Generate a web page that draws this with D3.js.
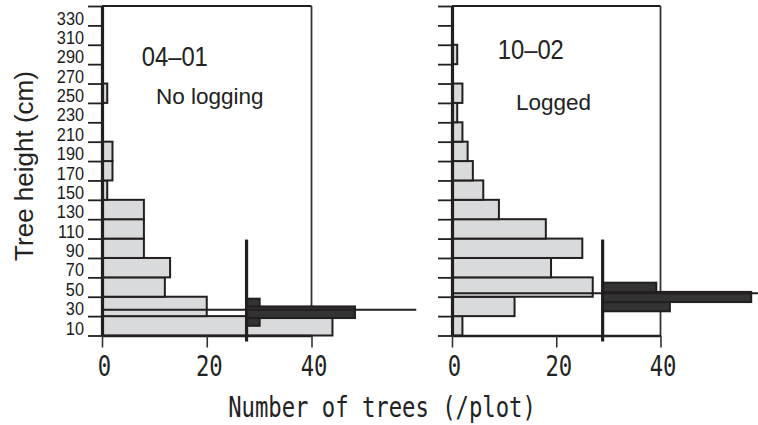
<!DOCTYPE html>
<html><head><meta charset="utf-8">
<script src="https://cdn.jsdelivr.net/npm/d3@7"></script>
<style>body{margin:0;background:#fff}svg{display:block}</style>
</head><body>
<svg id="c" width="758" height="425"></svg>
<script>
// ---- data ----
const binEdges = [0,20,40,60,80,100,120,140,160,180,200,220,240,260,280,300,320,340];
const binLabels = [10,30,50,70,90,110,130,150,170,190,210,230,250,270,290,310,330];
const xTicks = [0,20,40];
// counts per 20-cm bin, from 0-20 upward
const countsNoLogging = [44,20,12,13,8,8,8,1,2,2,0,0,1,0,0,0,0];
const countsLogged    = [2,12,27,19,25,18,9,6,4,3,2,1,2,0,1,0,0];
// dark inset histograms (edges in cm, lengths in number-of-trees units)
const insetEdgesNoLogging = [10,18,30,38];
const insetValsNoLogging  = [2.5,20.7,2.5];
const insetEdgesLogged    = [25,34.5,45,54.5];
const insetValsLogged     = [12.9,28.5,10.3];
const insetBaseNoLogging = 27.6, insetBaseLogged = 28.9;
const meanNoLogging = 26.6, meanLogged = 43.5;
const plotNames = ["04–01","10–02"];
const plotNotes = ["No logging","Logged"];

// ---- drawing ----
const svg = d3.select("#c");
const y = d3.scaleLinear().domain([0,340]).range([335.5,6]);
const dark = "#231f20", grayFill = "#d9dadb";

const panels = [
  {r:[102,311.5], counts:countsNoLogging, ie:insetEdgesNoLogging, iv:insetValsNoLogging, ib:insetBaseNoLogging, mean:meanNoLogging, name:plotNames[0], note:plotNotes[0], nameXY:[141.7,66], noteXY:[156,104], labels:true},
  {r:[452,660.5], counts:countsLogged, ie:insetEdgesLogged, iv:insetValsLogged, ib:insetBaseLogged, mean:meanLogged, name:plotNames[1], note:plotNotes[1], nameXY:[497.7,59.3], noteXY:[516,110], labels:false}
];

panels.forEach(p => {
  const x = d3.scaleLinear().domain([0,40]).range(p.r);
  const g = svg.append("g");
  // frame top and right
  g.append("line").attr("x1",x(0)).attr("x2",x(40)).attr("y1",y(340)).attr("y2",y(340))
    .attr("stroke",dark).attr("stroke-width",2);
  g.append("line").attr("x1",x(40)).attr("x2",x(40)).attr("y1",y(340)).attr("y2",y(0))
    .attr("stroke","#333").attr("stroke-width",1.8);
  // gray bars
  const bins = p.counts.map((c,i)=>({lo:binEdges[i], hi:binEdges[i+1], v:c})).filter(d=>d.v>0);
  g.selectAll("rect.bar").data(bins).join("rect").attr("class","bar")
    .attr("x",x(0)).attr("y",d=>y(d.hi)).attr("width",d=>x(d.v)-x(0)).attr("height",d=>y(d.lo)-y(d.hi))
    .attr("fill",grayFill).attr("stroke",dark).attr("stroke-width",2);
  // y axis ticks at bin edges
  const ya = g.append("g").attr("transform",`translate(${x(0)},0)`)
    .call(d3.axisLeft(y).tickValues(binEdges).tickSize(14).tickSizeOuter(0).tickFormat(""));
  ya.selectAll(".tick line").attr("stroke",dark).attr("stroke-width",1.8);
  ya.select(".domain").attr("stroke",dark).attr("stroke-width",3.2);
  if (p.labels) {
    const yl = g.append("g").attr("transform",`translate(${x(0)},0)`)
      .call(d3.axisLeft(y).tickValues(binLabels).tickSize(0).tickPadding(20.5).tickFormat(d3.format("d")));
    yl.select(".domain").remove();
    yl.selectAll("text").attr("font-family","'Liberation Sans',Arial,sans-serif")
      .attr("font-size",18.5).attr("fill","#1a1a1a").attr("dy","0.45em")
      .attr("transform","scale(0.88,1)");
  }
  // x axis
  const xa = g.append("g").attr("transform",`translate(0,${y(0)})`)
    .call(d3.axisBottom(x).tickValues(xTicks).tickSize(12).tickSizeOuter(0).tickPadding(8));
  xa.select(".domain").attr("stroke",dark).attr("stroke-width",2.4);
  xa.selectAll(".tick line").attr("stroke","#333").attr("stroke-width",1.6);
  xa.selectAll("text").attr("font-family","'DejaVu Sans Mono',monospace").attr("font-size",28.5)
    .attr("fill","#222").attr("transform","translate(2,0) scale(0.78,1)");
  // inset dark histogram
  const xi = d3.scaleLinear().domain([0,40]).range([x(p.ib), x(p.ib+40)]);
  const ibins = p.iv.map((v,i)=>({lo:p.ie[i], hi:p.ie[i+1], v}));
  g.selectAll("rect.ins").data(ibins).join("rect").attr("class","ins")
    .attr("x",xi(0)).attr("y",d=>y(d.hi)).attr("width",d=>xi(d.v)-xi(0)).attr("height",d=>y(d.lo)-y(d.hi))
    .attr("fill","#333").attr("stroke",dark).attr("stroke-width",2);
  g.append("line").attr("x1",xi(0)).attr("x2",xi(0)).attr("y1",y(99)).attr("y2",y(0)+6)
    .attr("stroke",dark).attr("stroke-width",3.2);
  // mean line
  g.append("line").attr("x1",x(0)).attr("x2",x(60)).attr("y1",y(p.mean)).attr("y2",y(p.mean))
    .attr("stroke",dark).attr("stroke-width",2);
  // texts
  g.append("text").attr("transform",`translate(${p.nameXY[0]},${p.nameXY[1]}) scale(0.85,1)`)
    .attr("font-family","'Liberation Sans',Arial,sans-serif").attr("font-size",28).attr("fill","#222").text(p.name);
  g.append("text").attr("x",p.noteXY[0]).attr("y",p.noteXY[1])
    .attr("font-family","'Liberation Sans',Arial,sans-serif").attr("font-size",22.5).attr("fill","#222").text(p.note);
});

svg.append("text").attr("transform","translate(33,166) rotate(-90)").attr("text-anchor","middle")
  .attr("font-family","'Liberation Sans',Arial,sans-serif").attr("font-size",26).attr("fill","#222")
  .text("Tree height (cm)");
svg.append("text").attr("transform","translate(382,416.7) scale(0.78,1)").attr("text-anchor","middle")
  .attr("font-family","'DejaVu Sans Mono',monospace").attr("font-size",28.5).attr("fill","#222")
  .text("Number of trees (/plot)");
</script>
</body></html>
